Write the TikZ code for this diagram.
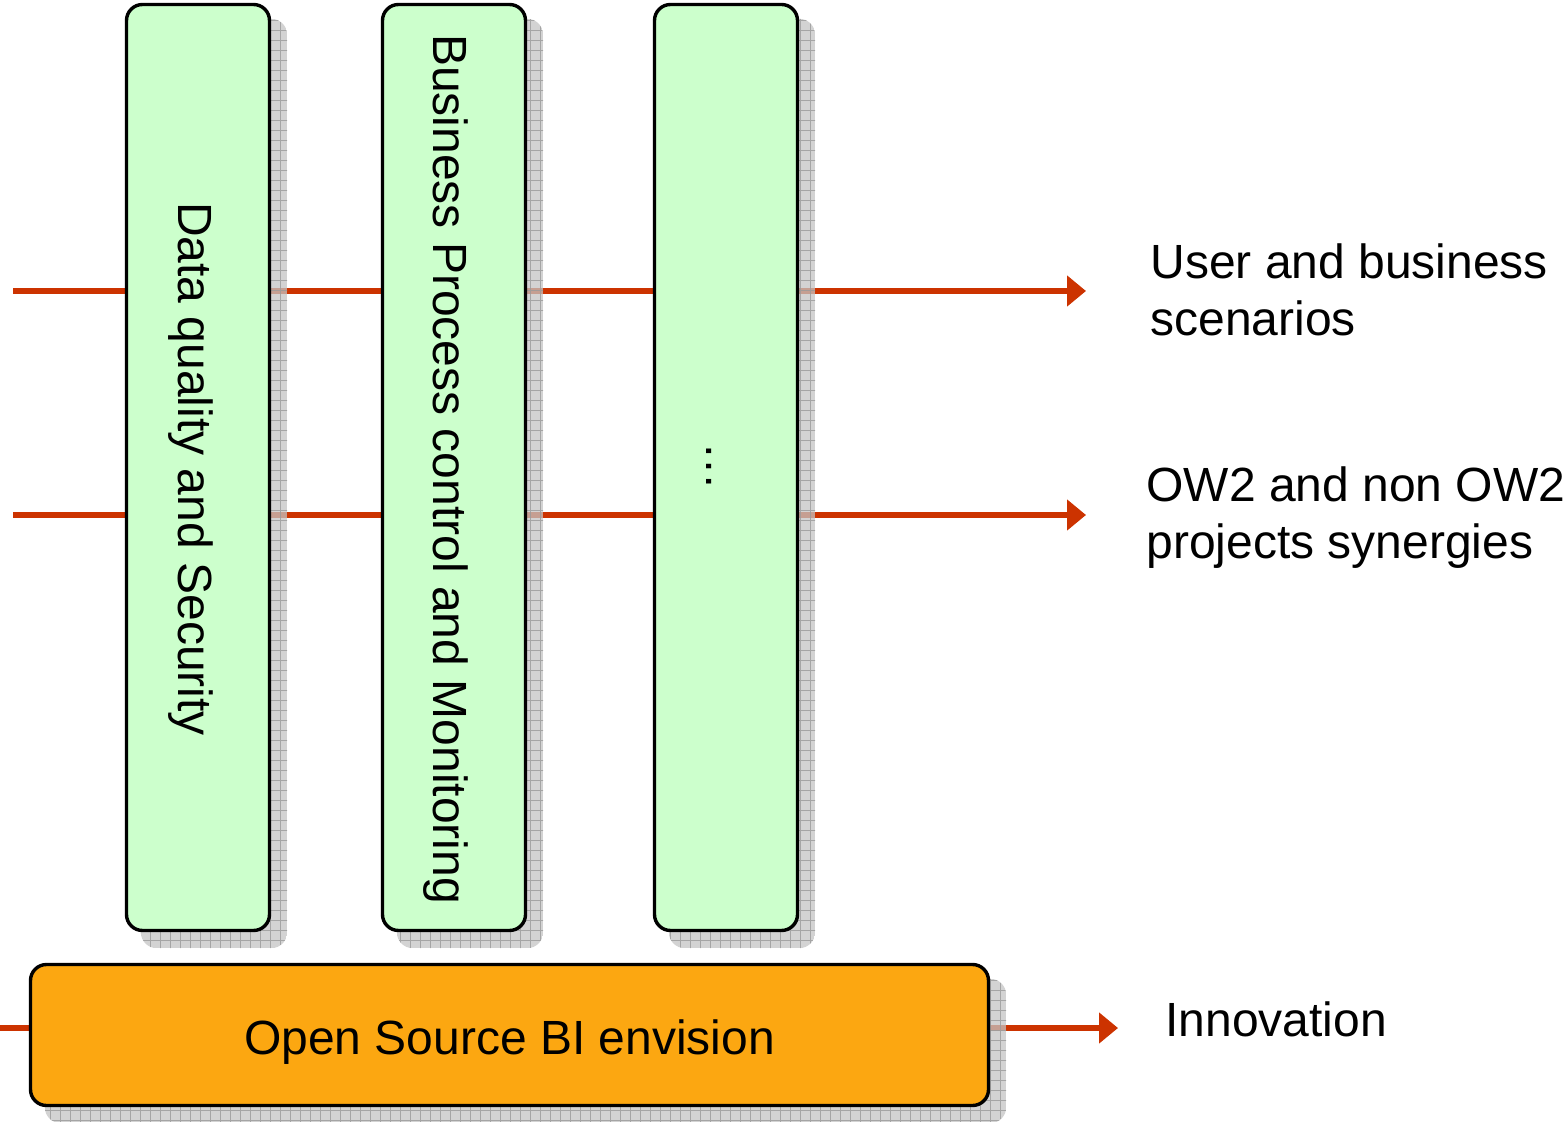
\documentclass[tikz,border=0pt]{standalone}
\usepackage{fontspec}
\setmainfont{Liberation Sans}
\usetikzlibrary{arrows.meta}
\pgfdeclarelayer{lines}
\pgfdeclarelayer{shadows}
\pgfsetlayers{lines,shadows,main}
\definecolor{boxgreen}{HTML}{CCFFCC}
\definecolor{boxorange}{HTML}{FCA711}
\definecolor{arrowred}{HTML}{CC3300}
\definecolor{shadegray}{HTML}{C4C4C4}
\definecolor{gridgray}{HTML}{9A9A9A}
\tikzset{
  pillar/.style={draw=black, line width=1.7pt, fill=boxgreen, rounded corners=8pt,
    minimum width=71.5pt, minimum height=463pt, inner sep=0pt},
  basebox/.style={draw=black, line width=1.7pt, fill=boxorange, rounded corners=8pt,
    minimum width=479pt, minimum height=70.5pt, inner sep=0pt},
  flow/.style={draw=arrowred, line width=2.6pt, -{Triangle[length=9.5pt,width=15pt]}},
  txt/.style={font=\fontsize{24}{28.5}\selectfont, inner sep=0pt},
  vtxt/.style={txt, rotate=-90, anchor=base},
}
\newcommand\dropshade[1]{%
  \begin{scope}
    \clip[rounded corners=8pt] ([shift={(8pt,-8pt)}]#1.south west) rectangle ([shift={(8pt,-8pt)}]#1.north east);
    \fill[shadegray, opacity=0.75] ([shift={(8pt,-8pt)}]#1.south west) rectangle ([shift={(8pt,-8pt)}]#1.north east);
    \draw[gridgray, line width=0.4pt, opacity=0.8, step=5pt] ([shift={(7pt,-9pt)}]#1.south west) grid ([shift={(9pt,-7pt)}]#1.north east);
  \end{scope}}
\begin{document}
\begin{tikzpicture}[x=0.5pt, y=-0.5pt]
\useasboundingbox (0,0) rectangle (1567,1122);

% boxes
\node[pillar] (b1) at (198,467.5) {};
\node[pillar] (b2) at (454,467.5) {};
\node[pillar] (b3) at (726,467.5) {};
\node[basebox] (base) at (509.5,1035) {};

% box texts
\node[vtxt] (t1) at (178,469) {Data quality and Security};
\node[vtxt] (t2) at (433,469) {Business Process control and Monitoring};
\node[vtxt] (t3) at (706,467) {…};
\node[txt] (t4) at (509.5,1042) {Open Source BI envision};

% right texts
\node[txt, anchor=north west, align=left] (r1) at (1150,243) {User and business\\scenarios};
\node[txt, anchor=north west, align=left] (r2) at (1146,466) {OW2 and non OW2\\projects synergies};
\node[txt, anchor=base west] (r3) at (1165,1036) {Innovation};

% connector end points
\coordinate (s1) at (13,291);
\coordinate (e1) at (1086,291);
\coordinate (s2) at (13,515);
\coordinate (e2) at (1086,515);
\coordinate (s3) at (0,1028);
\coordinate (e3) at (1118,1028);

\begin{pgfonlayer}{lines}
  \draw[flow] (s1) -- (e1);
  \draw[flow] (s2) -- (e2);
  \draw[flow] (s3) -- (e3);
\end{pgfonlayer}

\begin{pgfonlayer}{shadows}
  \dropshade{b1}
  \dropshade{b2}
  \dropshade{b3}
  \dropshade{base}
\end{pgfonlayer}
\end{tikzpicture}
\end{document}
